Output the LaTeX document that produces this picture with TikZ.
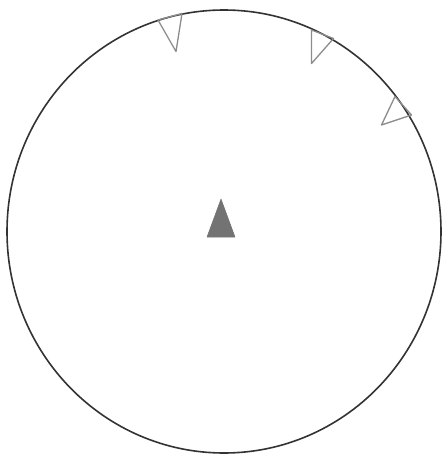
\documentclass[tikz,border=0pt]{standalone}
\begin{document}
\begin{tikzpicture}[x=1pt,y=-1pt,
  rim/.style={draw=black!80,line width=1.6pt},
  opentri/.style={draw=black!45,line width=1.3pt,line join=round},
  filltri/.style={fill=black!55,draw=black!55,line width=0.5pt,line join=round}]
\useasboundingbox (0,0) rectangle (444,458);
\draw[rim] (224,231.5) ellipse [x radius=217, y radius=221.5];
\draw[opentri] (158,20) -- (182,13.5) -- (176,51.5) -- cycle;
\draw[opentri] (311.5,30) -- (333.5,38.5) -- (311.5,63.5) -- cycle;
\draw[opentri] (395,96.5) -- (411.5,115) -- (381.5,125) -- cycle;
\draw[filltri] (221,199) -- (235,237) -- (207,237) -- cycle;
\end{tikzpicture}
\end{document}
